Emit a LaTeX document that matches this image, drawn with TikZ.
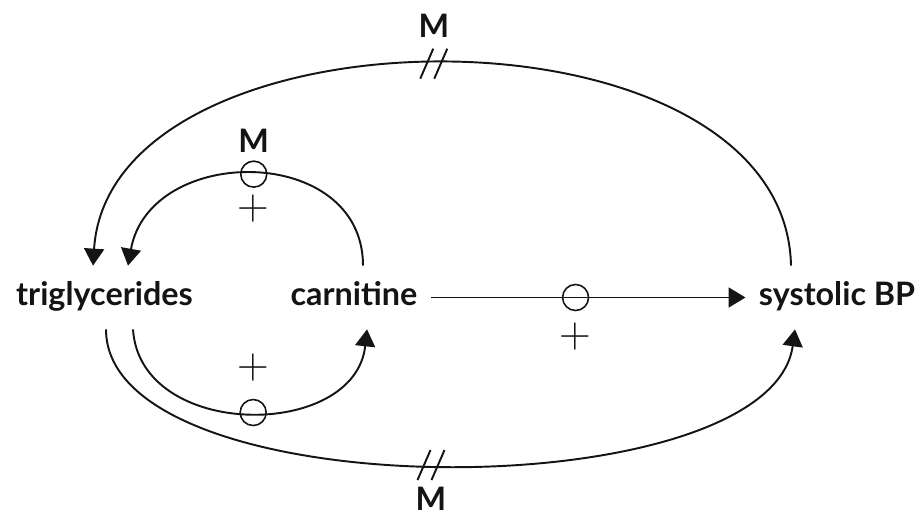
\documentclass[tikz,border=0pt]{standalone}
\usepackage{fontspec}
\setsansfont{Lato}
\usetikzlibrary{arrows.meta,positioning}
\definecolor{ink}{RGB}{20,20,20}
\tikzset{
  >={Triangle[length=3.4mm,width=4mm]},
  term/.style={font=\sffamily\bfseries\fontsize{18.4}{21}\selectfont,text=ink,anchor=base,
    inner xsep=2.6mm,inner ysep=3.4mm,text height=4.6mm,text depth=1.2mm},
  flow/.style={->,line width=1.1pt,draw=ink},
  ring/.style={circle,draw=ink,line width=0.9pt,minimum size=5.2mm,inner sep=0pt},
  signlab/.style={inner sep=0pt,text=ink,font=\rmfamily\fontsize{25}{25}\selectfont},
  mlab/.style={font=\sffamily\bfseries\fontsize{18.4}{21}\selectfont,text=ink,inner sep=0pt},
  % break mark on the long loops
  pics/cut/.style={code={
    \draw[ink,line width=1.1pt] (-0.27,-0.3) -- (-0.01,0.3) (0.01,-0.3) -- (0.27,0.3);
  }},
}

\begin{document}
\begin{tikzpicture}
  \useasboundingbox (0,0) rectangle (18.4,10.48);
  \node[term] (tg) at (2.09,4.36) {triglycerides};
  \node[term] (car) at (7.08,4.36) {carnitine};
  \node[term] (bp) at (16.74,4.36) {systolic BP};
  % carnitine -> BP
  \draw[flow] (car.east) -- node[ring,pos=0.46] (r3) {} (bp.west);
  \node[signlab,below=2.2mm of r3] (p3) {+};
  % inner loops
  \draw[flow] ([xshift=1.8mm]car.north) .. controls +(0,2.44) and +(0.44,2.44) .. ([xshift=4.7mm]tg.north)
    node[ring,pos=0.5] (r1) {};
  \node[mlab,above=1.6mm of r1] (m1) {M};
  \node[signlab,below=1.3mm of r1] (p1) {+};
  \draw[flow] ([xshift=5.7mm]tg.south) .. controls +(0.14,-2.22) and +(-0.24,-2.22) .. ([xshift=2.6mm]car.south)
    node[ring,pos=0.515] (r2) {};
  \node[signlab,above=3.4mm of r2] (p2) {+};
  % outer loops
  \draw[flow] ([xshift=-9.2mm]bp.north) .. controls +(-0.12,5.44) and +(0.34,5.34) .. ([xshift=-2.3mm]tg.north)
    coordinate[pos=0.512] (tcut);
  \pic at (tcut) {cut};
  \node[mlab,above=5.2mm of tcut] (mt) {M};
  \draw[flow] ([xshift=0.3mm]tg.south) .. controls +(0,-3.62) and +(-0.5,-3.62) .. ([xshift=-8.4mm]bp.south)
    coordinate[pos=0.49] (bcut);
  \pic at (bcut) {cut};
  \node[mlab,below=4.4mm of bcut] (mb) {M};
\end{tikzpicture}
\end{document}
